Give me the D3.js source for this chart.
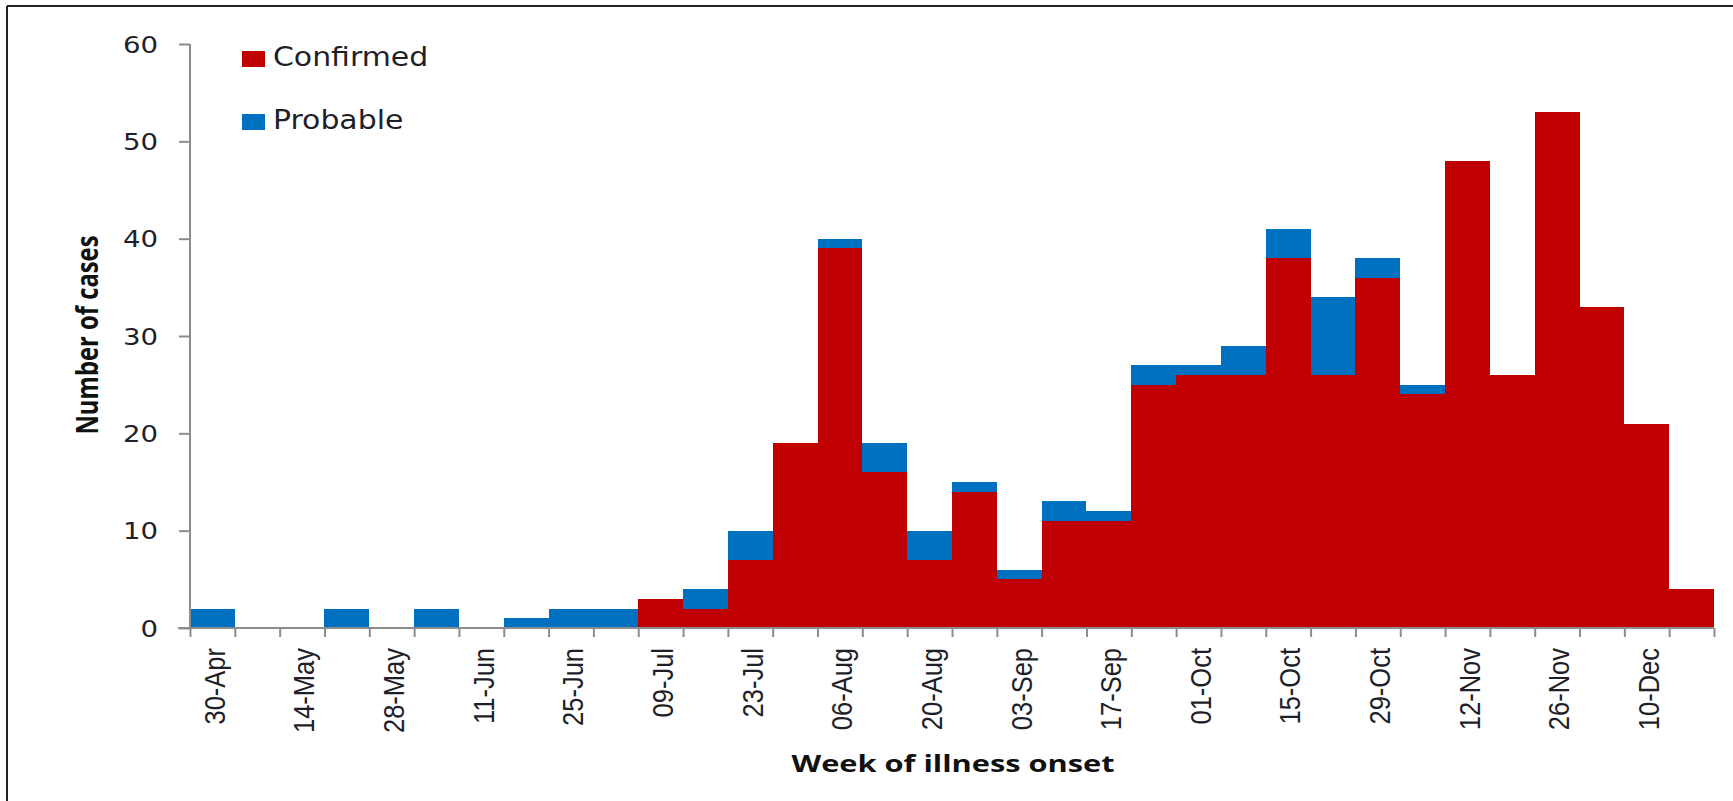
<!DOCTYPE html>
<html lang="en">
    <head>
        <meta charset="utf-8">
        <title>Cases by week of illness onset</title>
        <script type="text/javascript" src="https://cdn.jsdelivr.net/npm/d3@7"></script>
        <style>
            body { margin: 0; background: #fff; }
            .axis path,
            .axis line {
                fill: none;
                stroke: #8c8c8c;
                stroke-width: 2px;
            }
        </style>
    </head>
    <body>
        <script type="text/javascript">
            var w = 1733;
            var h = 801;

            // week starting dates (every other one is labelled)
            var weeks = ["30-Apr", "07-May", "14-May", "21-May", "28-May", "04-Jun", "11-Jun", "18-Jun", "25-Jun", "02-Jul",
                         "09-Jul", "16-Jul", "23-Jul", "30-Jul", "06-Aug", "13-Aug", "20-Aug", "27-Aug", "03-Sep", "10-Sep",
                         "17-Sep", "24-Sep", "01-Oct", "08-Oct", "15-Oct", "22-Oct", "29-Oct", "05-Nov", "12-Nov", "19-Nov",
                         "26-Nov", "03-Dec", "10-Dec", "17-Dec"];
            var confirmed = [0, 0, 0, 0, 0, 0, 0, 0, 0, 0,
                             3, 2, 7, 19, 39, 16, 7, 14, 5, 11,
                             11, 25, 26, 26, 38, 26, 36, 24, 48, 26,
                             53, 33, 21, 4];
            var probable = [2, 0, 0, 2, 0, 2, 0, 1, 2, 2,
                            0, 2, 3, 0, 1, 3, 3, 1, 1, 2,
                            1, 2, 1, 3, 3, 8, 2, 1, 0, 0,
                            0, 0, 0, 0];
            var yticks = [0, 10, 20, 30, 40, 50, 60];
            var seriesNames = ["Confirmed", "Probable"];
            var colors = ["#c00000", "#0070c0"];

            // the source picture is stretched sideways a little; text follows that
            var sx = 1.15;

            var x0 = 190, x1 = 1714, y0 = 628, y1 = 44;

            var xscale = d3.scaleBand().domain(d3.range(weeks.length)).range([x0, x1]).padding(0);
            var yscale = d3.scaleLinear().domain([0, 60]).range([y0, y1]);

            var svg = d3.select("body").append("svg").attr("width", w).attr("height", h);

            // frame (top and left edges only are visible)
            svg.append("line").attr("x1", 7).attr("y1", 6).attr("x2", w).attr("y2", 6)
               .attr("stroke", "#222").attr("stroke-width", 2);
            svg.append("line").attr("x1", 7).attr("y1", 6).attr("x2", 7).attr("y2", h)
               .attr("stroke", "#222").attr("stroke-width", 2);

            var rows = weeks.map(function (d, i) { return { week: d, i: i, c: confirmed[i], p: probable[i] }; });
            var stack = d3.stack().keys(["c", "p"])(rows);

            svg.append("g").selectAll("g").data(stack).enter().append("g")
               .attr("fill", function (d, k) { return colors[k]; })
               .selectAll("rect").data(function (d) { return d.filter(function (s) { return s[1] > s[0]; }); })
               .enter().append("rect")
               .attr("x", function (d) { return xscale(d.data.i); })
               .attr("width", xscale.bandwidth())
               .attr("y", function (d) { return yscale(d[1]); })
               .attr("height", function (d) { return yscale(d[0]) - yscale(d[1]); })
               .attr("shape-rendering", "crispEdges");

            // y axis
            var yaxis = d3.axisLeft(yscale).tickValues(yticks).tickSize(11).tickFormat("");
            var gy = svg.append("g").attr("class", "axis").attr("transform", "translate(" + x0 + ",0)").call(yaxis);
            gy.select(".domain").attr("d", "M0," + y1 + "V" + y0);

            svg.append("g").selectAll("text").data(yticks).enter().append("text")
               .attr("transform", function (d) { return "translate(158," + (yscale(d) + 8.5) + ") scale(1.2,1)"; })
               .attr("text-anchor", "end")
               .attr("font-family", "DejaVu Sans")
               .attr("font-size", "23px")
               .attr("fill", "#1f1f2a")
               .text(function (d) { return d; });

            // x axis: ticks at every week boundary
            var boundaries = d3.range(weeks.length + 1);
            var xb = d3.scaleLinear().domain([0, weeks.length]).range([x0, x1]);
            var xaxis = d3.axisBottom(xb).tickValues(boundaries).tickSize(9).tickFormat("");
            var gx = svg.append("g").attr("class", "axis").attr("transform", "translate(0," + y0 + ")").call(xaxis);
            gx.select(".domain").attr("d", "M178,0H" + x1);

            svg.append("g").selectAll("text")
               .data(weeks.filter(function (d, i) { return i % 2 === 0 && i < 33; }))
               .enter().append("text")
               .attr("transform", function (d) {
                   return "translate(" + (xscale(weeks.indexOf(d)) + xscale.bandwidth() / 2 + 2) + ",648) scale(" + sx + ",1) rotate(-90)";
               })
               .attr("text-anchor", "end")
               .attr("dy", "0.35em")
               .attr("font-family", "Liberation Sans, Arial, sans-serif")
               .attr("font-size", "25.5px")
               .attr("fill", "#1f1f2a")
               .text(function (d) { return d; });

            // axis titles
            svg.append("text")
               .attr("transform", "translate(98,335) scale(" + sx + ",1) rotate(-90)")
               .attr("text-anchor", "middle")
               .attr("font-family", "Open Sans")
               .attr("font-weight", "bold")
               .attr("font-size", "26.5px")
               .attr("textLength", 199)
               .attr("lengthAdjust", "spacingAndGlyphs")
               .attr("fill", "#111")
               .text("Number of cases");

            svg.append("text")
               .attr("x", 953).attr("y", 772)
               .attr("text-anchor", "middle")
               .attr("font-family", "Open Sans")
               .attr("font-weight", "bold")
               .attr("font-size", "22.5px")
               .attr("textLength", 323)
               .attr("lengthAdjust", "spacingAndGlyphs")
               .attr("fill", "#111")
               .text("Week of illness onset");

            // legend
            var legend = svg.append("g").selectAll("g").data(seriesNames).enter().append("g")
                            .attr("transform", function (d, i) { return "translate(242," + (51 + i * 63) + ")"; });
            legend.append("rect").attr("width", 23).attr("height", 16)
                  .attr("fill", function (d, i) { return colors[i]; });
            legend.append("text")
                  .attr("transform", "translate(31,15) scale(" + sx + ",1)")
                  .attr("font-family", "DejaVu Sans")
                  .attr("font-size", "26px")
                  .attr("fill", "#1f1f2a")
                  .text(function (d) { return d; });
        </script>
    </body>
</html>
